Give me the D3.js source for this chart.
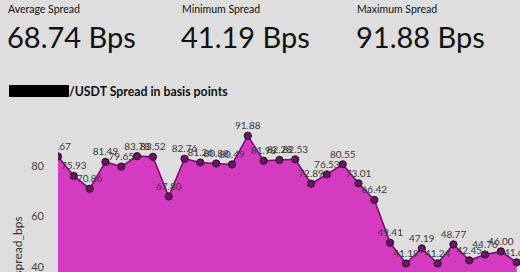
<!DOCTYPE html>
<html>
<head>
<meta charset="utf-8">
<script src="https://cdn.jsdelivr.net/npm/d3@7"></script>
<style>
  html, body { margin: 0; padding: 0; background: #dedede; }
  svg { display: block; }
</style>
</head>
<body>
<svg id="chart" width="520" height="272"></svg>
<script>
const statLabels = ["Average Spread", "Minimum Spread", "Maximum Spread"];
const statValues = ["68.74 Bps", "41.19 Bps", "91.88 Bps"];
const titleText = "/USDT Spread in basis points";
const yLabel = "spread_bps";
const yTicks = [40, 60, 80];
const spread = [83.67, 75.93, 70.86, 81.49, 79.65, 83.78, 83.52, 67.80, 82.76, 81.26,
                80.88, 80.49, 91.88, 81.98, 82.28, 82.53, 72.89, 76.53, 80.55, 73.01,
                66.42, 49.41, 41.19, 47.19, 41.24, 48.77, 42.45, 44.76, 46.00, 41.65];

const svg = d3.select("#chart");
const W = 520, H = 272;
const FONT = "Lato, 'Noto Sans', sans-serif";

svg.append("rect").attr("width", W).attr("height", H).attr("fill", "#dedede");

// stats header
const statX = [8, 182, 357];
statLabels.forEach((s, i) => {
  svg.append("text").attr("x", statX[i]).attr("y", 13)
    .attr("font-family", FONT).attr("font-size", 10.5).attr("fill", "#111").text(s);
  svg.append("text").attr("x", statX[i] - 1).attr("y", 48)
    .attr("font-family", FONT).attr("font-size", 29).attr("fill", "#111").text(statValues[i]);
});

// title with redacted block
svg.append("rect").attr("x", 9).attr("y", 85).attr("width", 60).attr("height", 12).attr("fill", "#000");
svg.append("text").attr("x", 69).attr("y", 96)
  .attr("font-family", FONT).attr("font-size", 12.3).attr("font-weight", "bold").attr("fill", "#111")
  .text(titleText);

// scales
const x = d3.scaleLinear().domain([0, spread.length - 1]).range([58, 516.7]);
const y = d3.scaleLinear().domain([40, 80]).range([266.5, 165.7]);
const baseY = y(0);

// y axis (labels only)
const yAxis = d3.axisLeft(y).tickValues(yTicks).tickSize(0).tickPadding(0).tickFormat(d3.format("d"));
const ga = svg.append("g").attr("transform", "translate(44,0)").call(yAxis);
ga.select(".domain").remove();
ga.selectAll("text").attr("font-family", FONT).attr("font-size", 11).attr("fill", "#444").attr("dy", "0.35em");

svg.append("text")
  .attr("transform", "translate(22,246) rotate(-90)")
  .attr("text-anchor", "middle")
  .attr("font-family", FONT).attr("font-size", 12).attr("fill", "#333")
  .text(yLabel);

// plot clip
svg.append("clipPath").attr("id", "plotclip")
  .append("rect").attr("x", 58).attr("y", 100).attr("width", W - 58).attr("height", H - 100);

const plot = svg.append("g").attr("clip-path", "url(#plotclip)");

const area = d3.area().x((d, i) => x(i)).y0(baseY).y1(d => y(d));
const line = d3.line().x((d, i) => x(i)).y(d => y(d));

plot.append("path").datum(spread).attr("d", area).attr("fill", "#d43bc1");
plot.append("path").datum(spread).attr("d", line)
  .attr("fill", "none").attr("stroke", "#7a0f72").attr("stroke-width", 1.6);

plot.selectAll("circle.pt").data(spread).join("circle")
  .attr("class", "pt")
  .attr("cx", (d, i) => x(i)).attr("cy", d => y(d)).attr("r", 3.6)
  .attr("fill", "#6e1467").attr("stroke", "#1e0a1c").attr("stroke-width", 1);

plot.selectAll("text.lbl").data(spread).join("text")
  .attr("class", "lbl")
  .attr("x", (d, i) => x(i)).attr("y", d => y(d) - 6.5)
  .attr("text-anchor", "middle")
  .attr("font-family", FONT).attr("font-size", 10).attr("fill", "#3a3a3a")
  .text(d => d.toFixed(2));
</script>
</body>
</html>
